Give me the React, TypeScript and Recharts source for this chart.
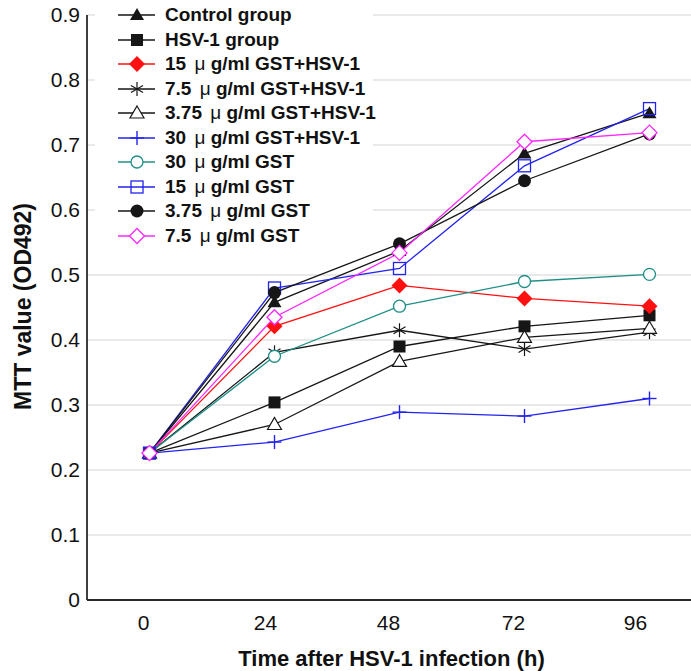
import React from 'react';
import { LineChart, Line, XAxis, YAxis, CartesianGrid } from 'recharts';

// time points (h)
const hours = [0, 24, 48, 72, 96];

// MTT values (OD492)
const control = [0.226, 0.458, 0.537, 0.687, 0.749];
const hsv1 = [0.226, 0.304, 0.39, 0.421, 0.438];
const gst15Hsv = [0.226, 0.421, 0.484, 0.464, 0.452];
const gst75Hsv = [0.226, 0.381, 0.415, 0.386, 0.412];
const gst375Hsv = [0.226, 0.27, 0.367, 0.404, 0.418];
const gst30Hsv = [0.226, 0.243, 0.289, 0.283, 0.31];
const gst30 = [0.226, 0.375, 0.452, 0.49, 0.501];
const gst15 = [0.226, 0.48, 0.51, 0.668, 0.756];
const gst375 = [0.226, 0.473, 0.548, 0.645, 0.717];
const gst75 = [0.226, 0.435, 0.534, 0.705, 0.719];

const yTicks = [0, 0.1, 0.2, 0.3, 0.4, 0.5, 0.6, 0.7, 0.8, 0.9];

type Shape =
  | 'triangle'
  | 'square'
  | 'diamond'
  | 'asterisk'
  | 'triangleOpen'
  | 'plus'
  | 'circleOpen'
  | 'squareOpen'
  | 'circle'
  | 'diamondOpen';

interface SeriesDef {
  key: string;
  label: string;
  values: number[];
  color: string;
  shape: Shape;
}

const BLACK = '#161616';
const RED = '#ff1010';
const BLUE = '#2323f0';
const TEAL = '#1f8f86';
const MAGENTA = '#ff26ff';

const series: SeriesDef[] = [
  { key: 'control', label: 'Control group', values: control, color: BLACK, shape: 'triangle' },
  { key: 'hsv1', label: 'HSV-1 group', values: hsv1, color: BLACK, shape: 'square' },
  { key: 'gst15Hsv', label: '15 μ g/ml GST+HSV-1', values: gst15Hsv, color: RED, shape: 'diamond' },
  { key: 'gst75Hsv', label: '7.5 μ g/ml GST+HSV-1', values: gst75Hsv, color: BLACK, shape: 'asterisk' },
  { key: 'gst375Hsv', label: '3.75 μ g/ml GST+HSV-1', values: gst375Hsv, color: BLACK, shape: 'triangleOpen' },
  { key: 'gst30Hsv', label: '30 μ g/ml GST+HSV-1', values: gst30Hsv, color: BLUE, shape: 'plus' },
  { key: 'gst30', label: '30 μ g/ml GST', values: gst30, color: TEAL, shape: 'circleOpen' },
  { key: 'gst15', label: '15 μ g/ml GST', values: gst15, color: BLUE, shape: 'squareOpen' },
  { key: 'gst375', label: '3.75 μ g/ml GST', values: gst375, color: BLACK, shape: 'circle' },
  { key: 'gst75', label: '7.5 μ g/ml GST', values: gst75, color: MAGENTA, shape: 'diamondOpen' },
];

const data = hours.map((t, i) => {
  const row: { [k: string]: number } = { t };
  series.forEach((s) => {
    row[s.key] = s.values[i];
  });
  return row;
});

const FONT = '"Liberation Sans", Arial, Helvetica, sans-serif';

const Marker = ({ shape, cx, cy, color }: { shape: Shape; cx: number; cy: number; color: string }) => {
  switch (shape) {
    case 'triangle':
      return <polygon points={`${cx},${cy - 7} ${cx + 7},${cy + 5} ${cx - 7},${cy + 5}`} fill={color} />;
    case 'triangleOpen':
      return (
        <polygon
          points={`${cx},${cy - 7} ${cx + 7},${cy + 5} ${cx - 7},${cy + 5}`}
          fill="#fff"
          stroke={color}
          strokeWidth={1.2}
        />
      );
    case 'square':
      return <rect x={cx - 6} y={cy - 6} width={12} height={12} fill={color} />;
    case 'squareOpen':
      return <rect x={cx - 6} y={cy - 6} width={12} height={12} fill="none" stroke={color} strokeWidth={1.3} />;
    case 'diamond':
      return <polygon points={`${cx},${cy - 8} ${cx + 8},${cy} ${cx},${cy + 8} ${cx - 8},${cy}`} fill={color} />;
    case 'diamondOpen':
      return (
        <polygon
          points={`${cx},${cy - 7.5} ${cx + 7.5},${cy} ${cx},${cy + 7.5} ${cx - 7.5},${cy}`}
          fill="#fff"
          stroke={color}
          strokeWidth={1.3}
        />
      );
    case 'circle':
      return <circle cx={cx} cy={cy} r={6.5} fill={color} />;
    case 'circleOpen':
      return <circle cx={cx} cy={cy} r={6} fill="#fff" stroke={color} strokeWidth={1.3} />;
    case 'plus':
      return (
        <g stroke={color} strokeWidth={1.4}>
          <line x1={cx - 7} y1={cy} x2={cx + 7} y2={cy} />
          <line x1={cx} y1={cy - 7} x2={cx} y2={cy + 7} />
        </g>
      );
    case 'asterisk':
      return (
        <g stroke={color} strokeWidth={1.2}>
          <line x1={cx} y1={cy - 7} x2={cx} y2={cy + 7} />
          <line x1={cx - 6} y1={cy - 3.5} x2={cx + 6} y2={cy + 3.5} />
          <line x1={cx - 6} y1={cy + 3.5} x2={cx + 6} y2={cy - 3.5} />
        </g>
      );
    default:
      return null;
  }
};

// labels in the source sit a little left of their points
const tickShift = [-6, -9, -11, -11, -14];

const XTick = (props: any) => {
  const { x, y, payload, index } = props;
  return (
    <text x={x + (tickShift[index] ?? 0)} y={y + 30} textAnchor="middle" fontSize={21} fill="#111" fontFamily={FONT}>
      {payload.value}
    </text>
  );
};

const LegendLabel = ({ text }: { text: string }) => {
  const parts = text.split('μ');
  if (parts.length < 2) return <span>{text}</span>;
  return (
    <span>
      {parts[0]}
      <span style={{ fontWeight: 400, marginLeft: 3 }}>μ</span>
      {parts[1]}
    </span>
  );
};

const ChartLegend = () => (
  <div
    style={{
      position: 'absolute',
      left: 95,
      top: 3,
      width: 278,
      background: '#fff',
      fontFamily: FONT,
      fontWeight: 700,
      fontSize: 19,
      color: '#111',
    }}
  >
    {series.map((s) => (
      <div key={s.key} style={{ height: 24.5, display: 'flex', alignItems: 'center', whiteSpace: 'nowrap' }}>
        <svg width={70} height={24} style={{ flex: 'none' }}>
          <line x1={23} y1={12} x2={60} y2={12} stroke={s.color} strokeWidth={1.3} />
          <Marker shape={s.shape} cx={42} cy={12} color={s.color} />
        </svg>
        <LegendLabel text={s.label} />
      </div>
    ))}
  </div>
);

const App = () => {
  return (
    <div
      style={{
        position: 'absolute',
        left: 0,
        top: 0,
        width: 691,
        height: 671,
        overflow: 'hidden',
        background: '#fff',
      }}
    >
      <LineChart
        width={720}
        height={671}
        data={data}
        margin={{ top: 15, right: 8, bottom: 0, left: 0 }}
        style={{ fontFamily: FONT }}
      >
        <CartesianGrid vertical={false} stroke="#e2e2e2" strokeWidth={1.5} />
        <XAxis
          dataKey="t"
          type="number"
          domain={[-12, 108]}
          ticks={hours}
          height={71}
          tickLine={false}
          tickSize={0}
          tickMargin={0}
          tick={<XTick />}
          axisLine={{ stroke: '#2a2a2a', strokeWidth: 1.8 }}
          label={(p: any) => {
            const vb = p.viewBox || { x: 87, width: 625 };
            return (
              <text
                x={vb.x + vb.width / 2 - 8}
                y={666}
                textAnchor="middle"
                fontSize={22}
                fontWeight={700}
                fill="#111"
                fontFamily={FONT}
              >
                Time after HSV-1 infection (h)
              </text>
            );
          }}
        />
        <YAxis
          domain={[0, 0.9]}
          ticks={yTicks}
          width={87}
          tickLine={false}
          tickSize={0}
          tickMargin={7}
          tick={{ fontSize: 21, fill: '#111', fontFamily: FONT }}
          tickFormatter={(v: number) => (v === 0 ? '0' : v.toFixed(1))}
          axisLine={{ stroke: '#2a2a2a', strokeWidth: 1.8 }}
          label={(p: any) => {
            const vb = p.viewBox || { y: 15, height: 585 };
            const cy = vb.y + vb.height / 2 - 1;
            return (
              <text
                x={22.5}
                y={cy}
                transform={`rotate(-90, 22.5, ${cy})`}
                textAnchor="middle"
                dominantBaseline="central"
                fontSize={23}
                fontWeight={700}
                fill="#111"
                fontFamily={FONT}
              >
                MTT value (OD492)
              </text>
            );
          }}
        />
        {series.map((s) => (
          <Line
            key={s.key}
            type="linear"
            dataKey={s.key}
            stroke={s.color}
            strokeWidth={1.3}
            isAnimationActive={false}
            dot={(p: any) => <Marker key={`${s.key}-${p.index}`} shape={s.shape} cx={p.cx} cy={p.cy} color={s.color} />}
            activeDot={false}
          />
        ))}
      </LineChart>
      <ChartLegend />
    </div>
  );
};

export default App;
